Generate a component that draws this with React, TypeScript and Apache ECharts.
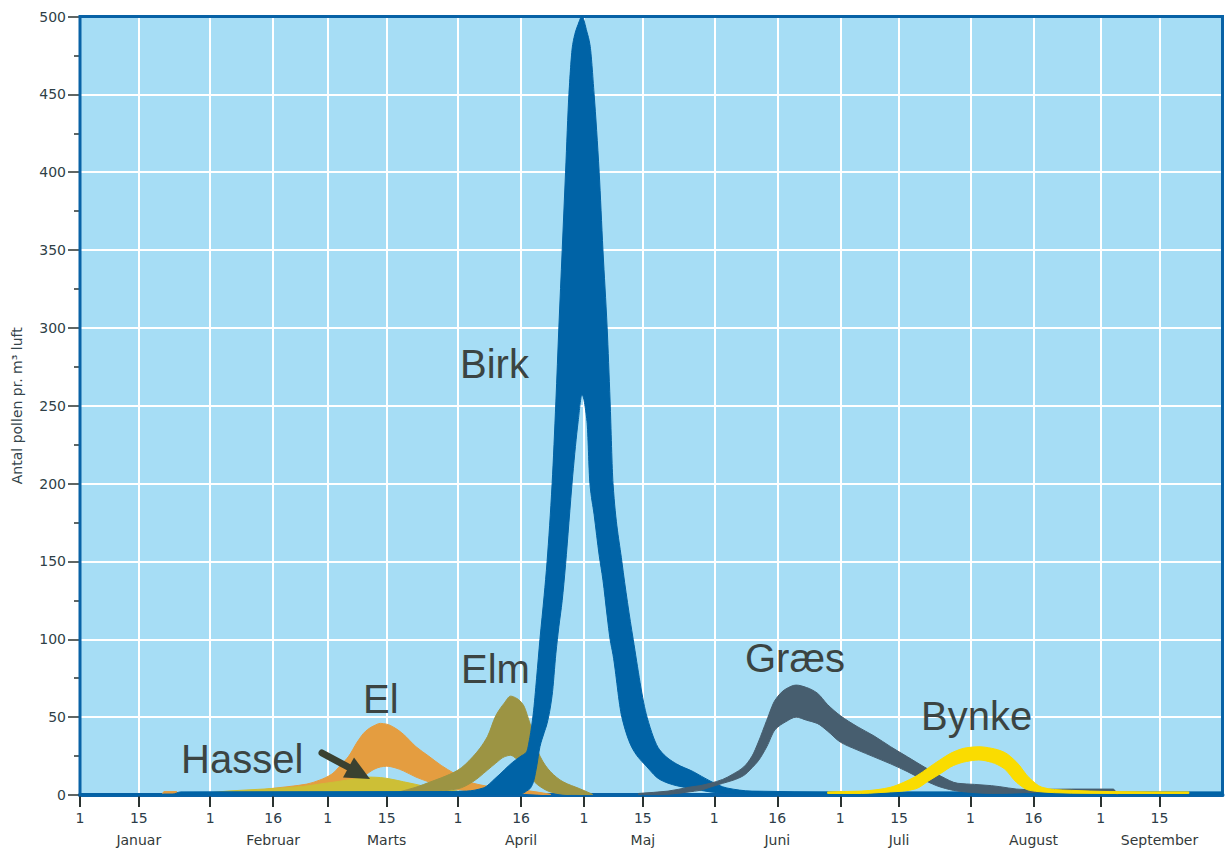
import React, { useEffect, useRef } from "react";
import * as echarts from "echarts";

// ---- axis ticks (day of year, 1 Jan = 0) ----
const tickDays = [0, 14, 31, 46, 59, 73, 90, 105, 120, 134, 151, 166, 181, 195, 212, 227, 243, 257];
const tickLabels = ["1", "15", "1", "16", "1", "15", "1", "16", "1", "15", "1", "16", "1", "15", "1", "16", "1", "15"];
const monthNames = ["Januar", "Februar", "Marts", "April", "Maj", "Juni", "Juli", "August", "September"];
const LAST_DAY = 272;

// ---- pollen bands: day, lower edge, upper edge ----
const elDays = [19.5, 20, 23, 23.5, 30, 40, 45, 50, 54, 57, 60, 62, 64, 66, 68, 70, 71.5, 73, 75, 77, 80, 83, 86, 89, 93, 100, 106, 112];
const elHigh = [0, 2.2, 2.2, 0, 0.5, 2, 4, 5.5, 7, 9.5, 13.5, 19, 25, 34, 41, 44.5, 46, 45.5, 43, 39, 31, 25, 19, 14, 8, 4.5, 3, 0.5];
const elLow = [0, 1.2, 1.2, 0, 0, 0.5, 1, 1.5, 2, 2.5, 4, 5.5, 7.5, 10, 13, 16.5, 18, 18.5, 17.5, 15.5, 11.5, 8.5, 6, 4, 2.5, 1.5, 1, 0];

const hasselDays = [28, 35, 45, 53, 57, 61, 64, 66.5, 69, 71.5, 74, 77, 80, 83, 87, 90, 96];
const hasselHigh = [0.5, 2.5, 4, 5.5, 7, 8.5, 9.8, 10.8, 11.5, 11.2, 10.2, 8.5, 6.8, 5, 3.5, 2.5, 0.5];
const hasselLow = [0, 0.5, 1, 1, 1.2, 1.5, 1.8, 2, 2, 2, 2, 1.5, 1.2, 1, 0.5, 0.5, 0];

const elmDays = [76, 80, 83.5, 86, 90, 93.5, 97, 99, 101, 102.5, 104, 105.5, 107, 109.5, 112, 115, 119, 122];
const elmHigh = [2, 5, 8.5, 11, 16, 24.5, 37.5, 51, 59, 63.5, 62, 58, 47, 25, 15, 8.5, 4, 0.5];
const elmLow = [0, 0.5, 1.5, 2.5, 4, 8.5, 16, 20.5, 24.5, 25.5, 23, 19, 12, 5.5, 2, 0.5, 0, 0];

const birkDays = [0, 22, 24, 85, 92, 96, 99, 103, 105, 106.3, 107.1, 107.9, 108.7, 109.5, 110.5, 111.2, 112.4, 113.3, 114, 114.8, 115.6, 116.4, 117.3, 118.6, 119.5, 120.7, 121.4, 122.4, 123.6, 124.5, 125.5, 126.2, 126.9, 129, 131.7, 135, 138, 142, 146, 150, 154, 160, 180, 272];
const birkHigh = [0.5, 0.5, 2, 2.2, 2.5, 4.5, 11, 21, 25, 27.6, 37, 52, 75, 100, 128, 150, 200, 253, 300, 350, 400, 450, 482, 495, 500, 490, 482, 450, 400, 350, 300, 253, 200, 150, 100, 50, 29, 20, 15, 9, 4.5, 2.5, 2, 2];
const birkLow = [0, 0, 0, 0, 0, 0, 0, 0, 0.5, 2.5, 4, 8, 18, 31, 40, 46, 64, 91, 108, 125, 148, 175, 205, 240, 257, 240, 200, 180, 154, 138, 115, 100, 90, 50, 29, 18, 10, 6, 4, 2, 1, 0.5, 0, 0];

const graesDays = [133, 140, 145, 147.6, 150, 153, 155.5, 158, 160, 161.5, 163.5, 165.5, 168, 170.5, 173, 175.5, 178, 181, 185, 189, 193, 197, 201, 205, 209, 213, 217, 225, 236, 246, 247];
const graesHigh = [1, 2.5, 5, 6, 7.5, 10, 13.5, 18, 25, 34, 48, 61, 68, 70.6, 69, 65.5, 58, 51, 44, 38, 31, 24.5, 18, 12, 7.5, 6.8, 6, 3.5, 3.8, 3.8, 0];
const graesLow = [0, 0.5, 2, 3, 5, 7.5, 9.5, 12.5, 17.5, 22, 31, 42, 47, 50, 48, 46, 41, 34, 29, 24.5, 20, 15, 9.5, 5, 2.5, 1.5, 1, 1.5, 2.8, 2.8, 0];

const bynkeDays = [178, 186, 190, 193, 196, 199, 202, 205, 208, 211, 214, 217, 220, 223, 226, 229, 232, 236, 245, 255, 264];
const bynkeHigh = [2, 2.5, 3.5, 5, 8, 12, 17.5, 23, 27.7, 30.3, 31, 30, 27.5, 21, 11, 5, 3.5, 3, 2.2, 2, 2];
const bynkeLow = [1, 1, 1.5, 2, 2.5, 4, 9, 14, 19, 21.5, 22.5, 21, 17, 8, 3, 2, 1.5, 1.2, 1, 1, 1];

const dayCategories = Array.from({ length: LAST_DAY + 1 }, (_, i) => String(i));
const tickSet = new Set(tickDays);
const AXIS_FONT = '"DejaVu Sans", sans-serif';
const LABEL_FONT = '40px "Liberation Sans", Arial, sans-serif';

// monotone cubic (in x) path segments through pixel points
function monotoneSegments(pts: number[][]): string {
  const n = pts.length;
  if (n < 2) return "";
  const dx: number[] = [];
  const m: number[] = [];
  for (let i = 0; i < n - 1; i++) {
    dx[i] = pts[i + 1][0] - pts[i][0];
    m[i] = dx[i] === 0 ? 0 : (pts[i + 1][1] - pts[i][1]) / dx[i];
  }
  const t: number[] = new Array(n);
  t[0] = m[0];
  t[n - 1] = m[n - 2];
  for (let i = 1; i < n - 1; i++) {
    if (m[i - 1] * m[i] <= 0) t[i] = 0;
    else {
      const w1 = 2 * dx[i] + dx[i - 1];
      const w2 = dx[i] + 2 * dx[i - 1];
      t[i] = (w1 + w2) / (w1 / m[i - 1] + w2 / m[i]);
    }
  }
  let s = "";
  for (let i = 0; i < n - 1; i++) {
    const h = dx[i] / 3;
    const c1x = pts[i][0] + h;
    const c1y = pts[i][1] + t[i] * h;
    const c2x = pts[i + 1][0] - h;
    const c2y = pts[i + 1][1] - t[i + 1] * h;
    s += ` C${c1x.toFixed(2)},${c1y.toFixed(2)} ${c2x.toFixed(2)},${c2y.toFixed(2)} ${pts[i + 1][0].toFixed(2)},${pts[i + 1][1].toFixed(2)}`;
  }
  return s;
}

function band(name: string, days: number[], low: number[], high: number[], color: string) {
  return {
    type: "custom",
    name,
    xAxisIndex: 0,
    yAxisIndex: 0,
    clip: true,
    silent: true,
    data: days.map((d, i) => [d, low[i], high[i]]),
    encode: { x: 0, y: [1, 2] },
    renderItem: (params: any, api: any) => {
      if (params.dataIndexInside !== 0) return null;
      const n = params.dataInsideLength;
      const top: number[][] = [];
      const bottom: number[][] = [];
      for (let i = 0; i < n; i++) {
        const d = api.value(0, i);
        top.push(api.coord([d, api.value(2, i)]));
        bottom.push(api.coord([d, api.value(1, i)]));
      }
      bottom.reverse();
      const pathData =
        `M${top[0][0].toFixed(2)},${top[0][1].toFixed(2)}` +
        monotoneSegments(top) +
        ` L${bottom[0][0].toFixed(2)},${bottom[0][1].toFixed(2)}` +
        monotoneSegments(bottom) +
        " Z";
      return {
        type: "path",
        shape: { pathData },
        style: { fill: color, stroke: color, lineWidth: 1, lineJoin: "round" },
      };
    },
  };
}

function label(text: string, x: number, y: number) {
  return {
    type: "text",
    z: 100,
    style: {
      text,
      x,
      y,
      font: LABEL_FONT,
      fill: "#3b4442",
      textAlign: "left",
      textVerticalAlign: "middle",
    },
  };
}

export default function App() {
  const ref = useRef<HTMLDivElement>(null);

  useEffect(() => {
    if (!ref.current) return;
    const chart = echarts.init(ref.current, undefined, { renderer: "svg" });
    const option: any = {
      animation: false,
      textStyle: { fontFamily: AXIS_FONT },
      grid: {
        left: 80,
        right: 6.5,
        top: 16.5,
        bottom: 57,
        show: true,
        backgroundColor: "#a6ddf5",
        borderWidth: 0,
      },
      xAxis: [
        { type: "value", min: 0, max: LAST_DAY, show: false, position: "bottom" },
        {
          type: "category",
          position: "bottom",
          data: dayCategories,
          boundaryGap: false,
          axisLine: { show: true, onZero: false, lineStyle: { color: "#0862a6", width: 4 } },
          axisTick: {
            show: true,
            interval: (i: number) => tickSet.has(i),
            length: 12,
            lineStyle: { color: "#2b3331", width: 2 },
          },
          axisLabel: {
            interval: (i: number) => tickSet.has(i),
            margin: 16,
            formatter: (_v: string, index: number) => {
              const k = tickDays.indexOf(index);
              if (k < 0) return "";
              if (k % 2 === 1) return `{n|${tickLabels[k]}}\n{m|${monthNames[(k - 1) / 2]}}`;
              return `{n|${tickLabels[k]}}`;
            },
            rich: {
              n: { fontSize: 14, lineHeight: 14, color: "#2c3c48", fontFamily: AXIS_FONT },
              m: { fontSize: 14, lineHeight: 30, color: "#333a3a", fontFamily: AXIS_FONT },
            },
          },
          splitLine: {
            show: true,
            interval: (i: number) => tickSet.has(i),
            lineStyle: { color: "#ffffff", width: 2 },
          },
        },
      ],
      yAxis: {
        type: "value",
        min: 0,
        max: 500,
        interval: 50,
        axisLine: { show: false },
        axisTick: { show: true, length: 12, lineStyle: { color: "#2b3331", width: 1.5 } },
        minorTick: { show: true, splitNumber: 2, length: 6, lineStyle: { color: "#2b3331", width: 1.5 } },
        axisLabel: { fontSize: 14, color: "#2f3f47", margin: 14, fontFamily: AXIS_FONT },
        splitLine: { show: true, lineStyle: { color: "#ffffff", width: 2 } },
        name: "Antal pollen pr. m³ luft",
        nameLocation: "middle",
        nameGap: 56,
        nameTextStyle: { fontSize: 14, color: "#34444a", fontFamily: AXIS_FONT },
      },
      series: [
        band("El", elDays, elLow, elHigh, "#e49d40"),
        band("Hassel", hasselDays, hasselLow, hasselHigh, "#cdbf36"),
        band("Elm", elmDays, elmLow, elmHigh, "#9c9443"),
        band("Birk", birkDays, birkLow, birkHigh, "#0063a6"),
        band("Græs", graesDays, graesLow, graesHigh, "#475e6f"),
        band("Bynke", bynkeDays, bynkeLow, bynkeHigh, "#fadc00"),
      ],
      graphic: [
        {
          type: "rect",
          z: 1,
          silent: true,
          shape: { x: 80, y: 16.5, width: 1142.5, height: 778.5 },
          style: { fill: "none", stroke: "#0862a6", lineWidth: 3 },
        },
        label("Birk", 460, 364),
        label("Elm", 461, 669),
        label("El", 363, 699),
        label("Hassel", 181, 759),
        label("Græs", 745, 658),
        label("Bynke", 921, 716),
        {
          type: "line",
          z: 100,
          shape: { x1: 322, y1: 753, x2: 350, y2: 768 },
          style: { stroke: "#3a4130", lineWidth: 7, lineCap: "round" },
        },
        {
          type: "polygon",
          z: 100,
          shape: { points: [[343, 777.5], [354, 757.5], [370, 779]] },
          style: { fill: "#3a4130" },
        },
      ],
    };
    chart.setOption(option);
    return () => chart.dispose();
  }, []);

  return (
    <div
      ref={ref}
      style={{ position: "fixed", left: 0, top: 0, width: 1229, height: 852, background: "#ffffff" }}
    />
  );
}
